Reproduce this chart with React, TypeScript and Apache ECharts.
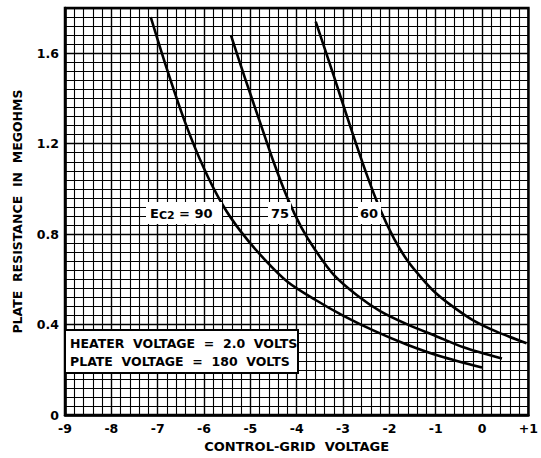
import React, { useEffect, useRef } from "react";
import * as echarts from "echarts";

// ---- data ----
const xTickValues = [-9, -8, -7, -6, -5, -4, -3, -2, -1, 0, 1];
const yTickValues = [0, 0.4, 0.8, 1.2, 1.6];

const curveEc2_90: [number, number][] = [
  [-7.15, 1.76], [-6.8, 1.53], [-6.4, 1.29], [-6.0, 1.09], [-5.6, 0.93],
  [-5.2, 0.81], [-4.7, 0.69], [-4.2, 0.59], [-3.6, 0.51], [-3.0, 0.44],
  [-2.3, 0.37], [-1.6, 0.31], [-0.9, 0.26], [0.0, 0.21],
];
const curveEc2_75: [number, number][] = [
  [-5.42, 1.68], [-5.1, 1.48], [-4.8, 1.3], [-4.5, 1.12], [-4.2, 0.96],
  [-3.9, 0.83], [-3.6, 0.73], [-3.2, 0.62], [-2.7, 0.53], [-2.2, 0.46],
  [-1.6, 0.4], [-1.0, 0.35], [-0.4, 0.3], [0.43, 0.25],
];
const curveEc2_60: [number, number][] = [
  [-3.59, 1.74], [-3.2, 1.5], [-2.85, 1.28], [-2.5, 1.07], [-2.2, 0.91],
  [-1.9, 0.78], [-1.6, 0.68], [-1.3, 0.605], [-1.0, 0.54], [-0.6, 0.475],
  [-0.2, 0.42], [0.3, 0.37], [0.96, 0.318],
];

const xAxisTitle = "CONTROL-GRID  VOLTAGE";
const yAxisTitle = "PLATE  RESISTANCE  IN  MEGOHMS";
const noteLines = ["HEATER  VOLTAGE  =  2.0  VOLTS", "PLATE  VOLTAGE  =  180  VOLTS"];

const FONT = "DejaVu Sans";

export default function App() {
  const ref = useRef<HTMLDivElement>(null);

  useEffect(() => {
    document.body.style.margin = "0";
    if (!ref.current) return;
    const chart = echarts.init(ref.current, undefined, { renderer: "svg" });

    const lineSeries = (name: string, data: [number, number][]) => ({
      name,
      type: "line",
      data,
      smooth: 0.3,
      symbol: "none",
      silent: true,
      z: 5,
      lineStyle: { color: "#000", width: 2.6 },
    });

    chart.setOption({
      animation: false,
      backgroundColor: "#fff",
      grid: {
        left: 65,
        right: 6,
        top: 8,
        bottom: 38,
        show: true,
        backgroundColor: "#fff",
        borderColor: "#000",
        borderWidth: 2.5,
      },
      xAxis: {
        type: "value",
        min: xTickValues[0],
        max: xTickValues[xTickValues.length - 1],
        interval: 1,
        name: xAxisTitle,
        nameLocation: "middle",
        nameGap: 24,
        nameTextStyle: { fontFamily: FONT, fontWeight: "bold", fontSize: 13, color: "#000" },
        axisLine: { show: true, onZero: false, lineStyle: { color: "#000", width: 2.5 } },
        axisTick: { show: false },
        minorTick: { show: false, splitNumber: 5 },
        axisLabel: {
          margin: 7,
          fontFamily: FONT,
          fontWeight: "bold",
          fontSize: 12.5,
          color: "#000",
          formatter: (v: number) => (v > 0 ? "+" + v : String(v)),
        },
        splitLine: { show: true, lineStyle: { color: "#000", width: 1.4 } },
        minorSplitLine: { show: true, lineStyle: { color: "#000", width: 1.1 } },
      },
      yAxis: {
        type: "value",
        min: 0,
        max: 1.8,
        interval: 0.4,
        name: yAxisTitle,
        nameLocation: "middle",
        nameGap: 41,
        nameRotate: 90,
        nameTextStyle: { fontFamily: FONT, fontWeight: "bold", fontSize: 12.5, color: "#000" },
        axisLine: { show: true, onZero: false, lineStyle: { color: "#000", width: 2.5 } },
        axisTick: { show: false },
        minorTick: { show: false, splitNumber: 10 },
        axisLabel: {
          margin: 6,
          fontFamily: FONT,
          fontWeight: "bold",
          fontSize: 12.5,
          color: "#000",
          formatter: (v: number) =>
            yTickValues.some((t) => Math.abs(t - v) < 1e-6) ? (v === 0 ? "0" : v.toFixed(1)) : "",
        },
        splitLine: { show: true, lineStyle: { color: "#000", width: 1.4 } },
        minorSplitLine: { show: true, lineStyle: { color: "#000", width: 1.1 } },
      },
      series: [
        lineSeries("Ec2=90", curveEc2_90),
        lineSeries("Ec2=75", curveEc2_75),
        lineSeries("Ec2=60", curveEc2_60),
      ],
      graphic: [
        // Ec2 = 90 label
        { type: "rect", shape: { x: 146, y: 202, width: 76, height: 22 }, style: { fill: "#fff" }, z: 100 },
        {
          type: "text",
          x: 150,
          y: 213,
          z: 101,
          style: {
            text: "{a|E}{b|C2}{a| = 90}",
            verticalAlign: "middle",
            rich: {
              a: { fontFamily: FONT, fontWeight: "bold", fontSize: 13, fill: "#000" },
              b: { fontFamily: FONT, fontWeight: "bold", fontSize: 11, fill: "#000", padding: [4, 0, 0, 0] },
            },
          },
        },
        // 75 label
        { type: "rect", shape: { x: 268, y: 202, width: 23, height: 22 }, style: { fill: "#fff" }, z: 100 },
        {
          type: "text",
          x: 280,
          y: 213,
          z: 101,
          style: { text: "75", fontFamily: FONT, fontWeight: "bold", fontSize: 13, fill: "#000", align: "center", verticalAlign: "middle" },
        },
        // 60 label
        { type: "rect", shape: { x: 358, y: 202, width: 23, height: 22 }, style: { fill: "#fff" }, z: 100 },
        {
          type: "text",
          x: 369,
          y: 213,
          z: 101,
          style: { text: "60", fontFamily: FONT, fontWeight: "bold", fontSize: 13, fill: "#000", align: "center", verticalAlign: "middle" },
        },
        // heater / plate voltage note
        { type: "rect", shape: { x: 65, y: 330, width: 233, height: 43 }, style: { fill: "#fff", stroke: "#000", lineWidth: 2 }, z: 100 },
        {
          type: "text",
          x: 70,
          y: 343,
          z: 101,
          style: { text: noteLines[0], fontFamily: FONT, fontWeight: "bold", fontSize: 12.5, fill: "#000", verticalAlign: "middle" },
        },
        {
          type: "text",
          x: 70,
          y: 361,
          z: 101,
          style: { text: noteLines[1], fontFamily: FONT, fontWeight: "bold", fontSize: 12.5, fill: "#000", verticalAlign: "middle" },
        },
      ],
    });

    return () => chart.dispose();
  }, []);

  return <div ref={ref} style={{ width: 541, height: 458 }} />;
}
